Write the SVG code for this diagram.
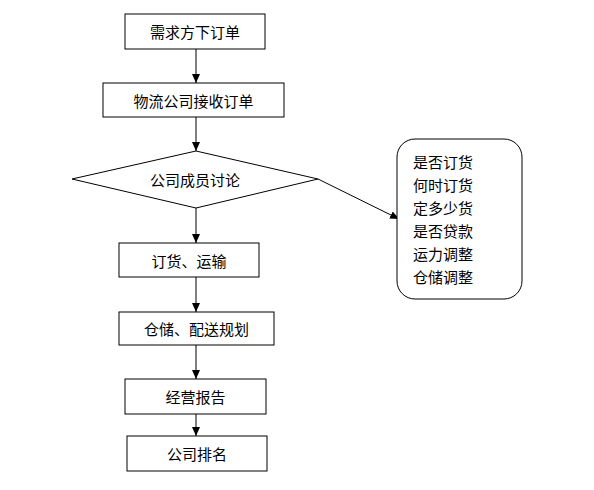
<svg xmlns="http://www.w3.org/2000/svg" width="594" height="490" viewBox="0 0 594 490">
<style>
.n{fill:#fff;stroke:#000;stroke-width:1}
.t{font-family:"Noto Sans CJK SC","Liberation Sans",sans-serif;font-size:15px;fill:#000;text-anchor:middle;dominant-baseline:central}
.l{font-family:"Noto Sans CJK SC","Liberation Sans",sans-serif;font-size:15px;fill:#000;dominant-baseline:central}
.c{stroke:#000;stroke-width:1;fill:none;marker-end:url(#a)}
</style>
<defs>
<marker id="a" markerWidth="10" markerHeight="10" refX="9" refY="4" orient="auto" markerUnits="userSpaceOnUse">
<path d="M0,0 L9,4 L0,8 Z" fill="#000"/>
</marker>
</defs>
<rect width="594" height="490" fill="#fff"/>
<g id="connectors">
<line class="c" x1="196" y1="49" x2="196" y2="83"/>
<line class="c" x1="196" y1="117" x2="196" y2="151"/>
<line class="c" x1="196" y1="208" x2="196" y2="243"/>
<line class="c" x1="196" y1="277" x2="196" y2="312"/>
<line class="c" x1="196" y1="345" x2="196" y2="379"/>
<line class="c" x1="196" y1="414" x2="196" y2="436"/>
<line class="c" x1="318" y1="179" x2="399" y2="219"/>
</g>
<g id="n1"><rect class="n" x="125" y="14" width="140" height="35"/><text class="t" x="195" y="31.5">需求方下订单</text></g>
<g id="n2"><rect class="n" x="103" y="83" width="181" height="34"/><text class="t" x="193.5" y="100">物流公司接收订单</text></g>
<g id="n3"><polygon class="n" points="196,151 318,179 196,208 72,179"/><text class="t" x="195" y="179">公司成员讨论</text></g>
<g id="n4"><rect class="n" x="119" y="243" width="140" height="34"/><text class="t" x="189" y="260">订货、运输</text></g>
<g id="n5"><rect class="n" x="119" y="312" width="155" height="33"/><text class="t" x="196.5" y="328.5">仓储、配送规划</text></g>
<g id="n6"><rect class="n" x="125" y="379" width="141" height="35"/><text class="t" x="195.5" y="396.5">经营报告</text></g>
<g id="n7"><rect class="n" x="127" y="436" width="140" height="35"/><text class="t" x="197" y="453.5">公司排名</text></g>
<g id="n8"><rect class="n" x="397" y="139" width="125" height="160" rx="18" ry="18"/>
<text class="l" x="413" y="161">是否订货</text>
<text class="l" x="413" y="184">何时订货</text>
<text class="l" x="413" y="207">定多少货</text>
<text class="l" x="413" y="230">是否贷款</text>
<text class="l" x="413" y="253">运力调整</text>
<text class="l" x="413" y="276">仓储调整</text>
</g>
</svg>
